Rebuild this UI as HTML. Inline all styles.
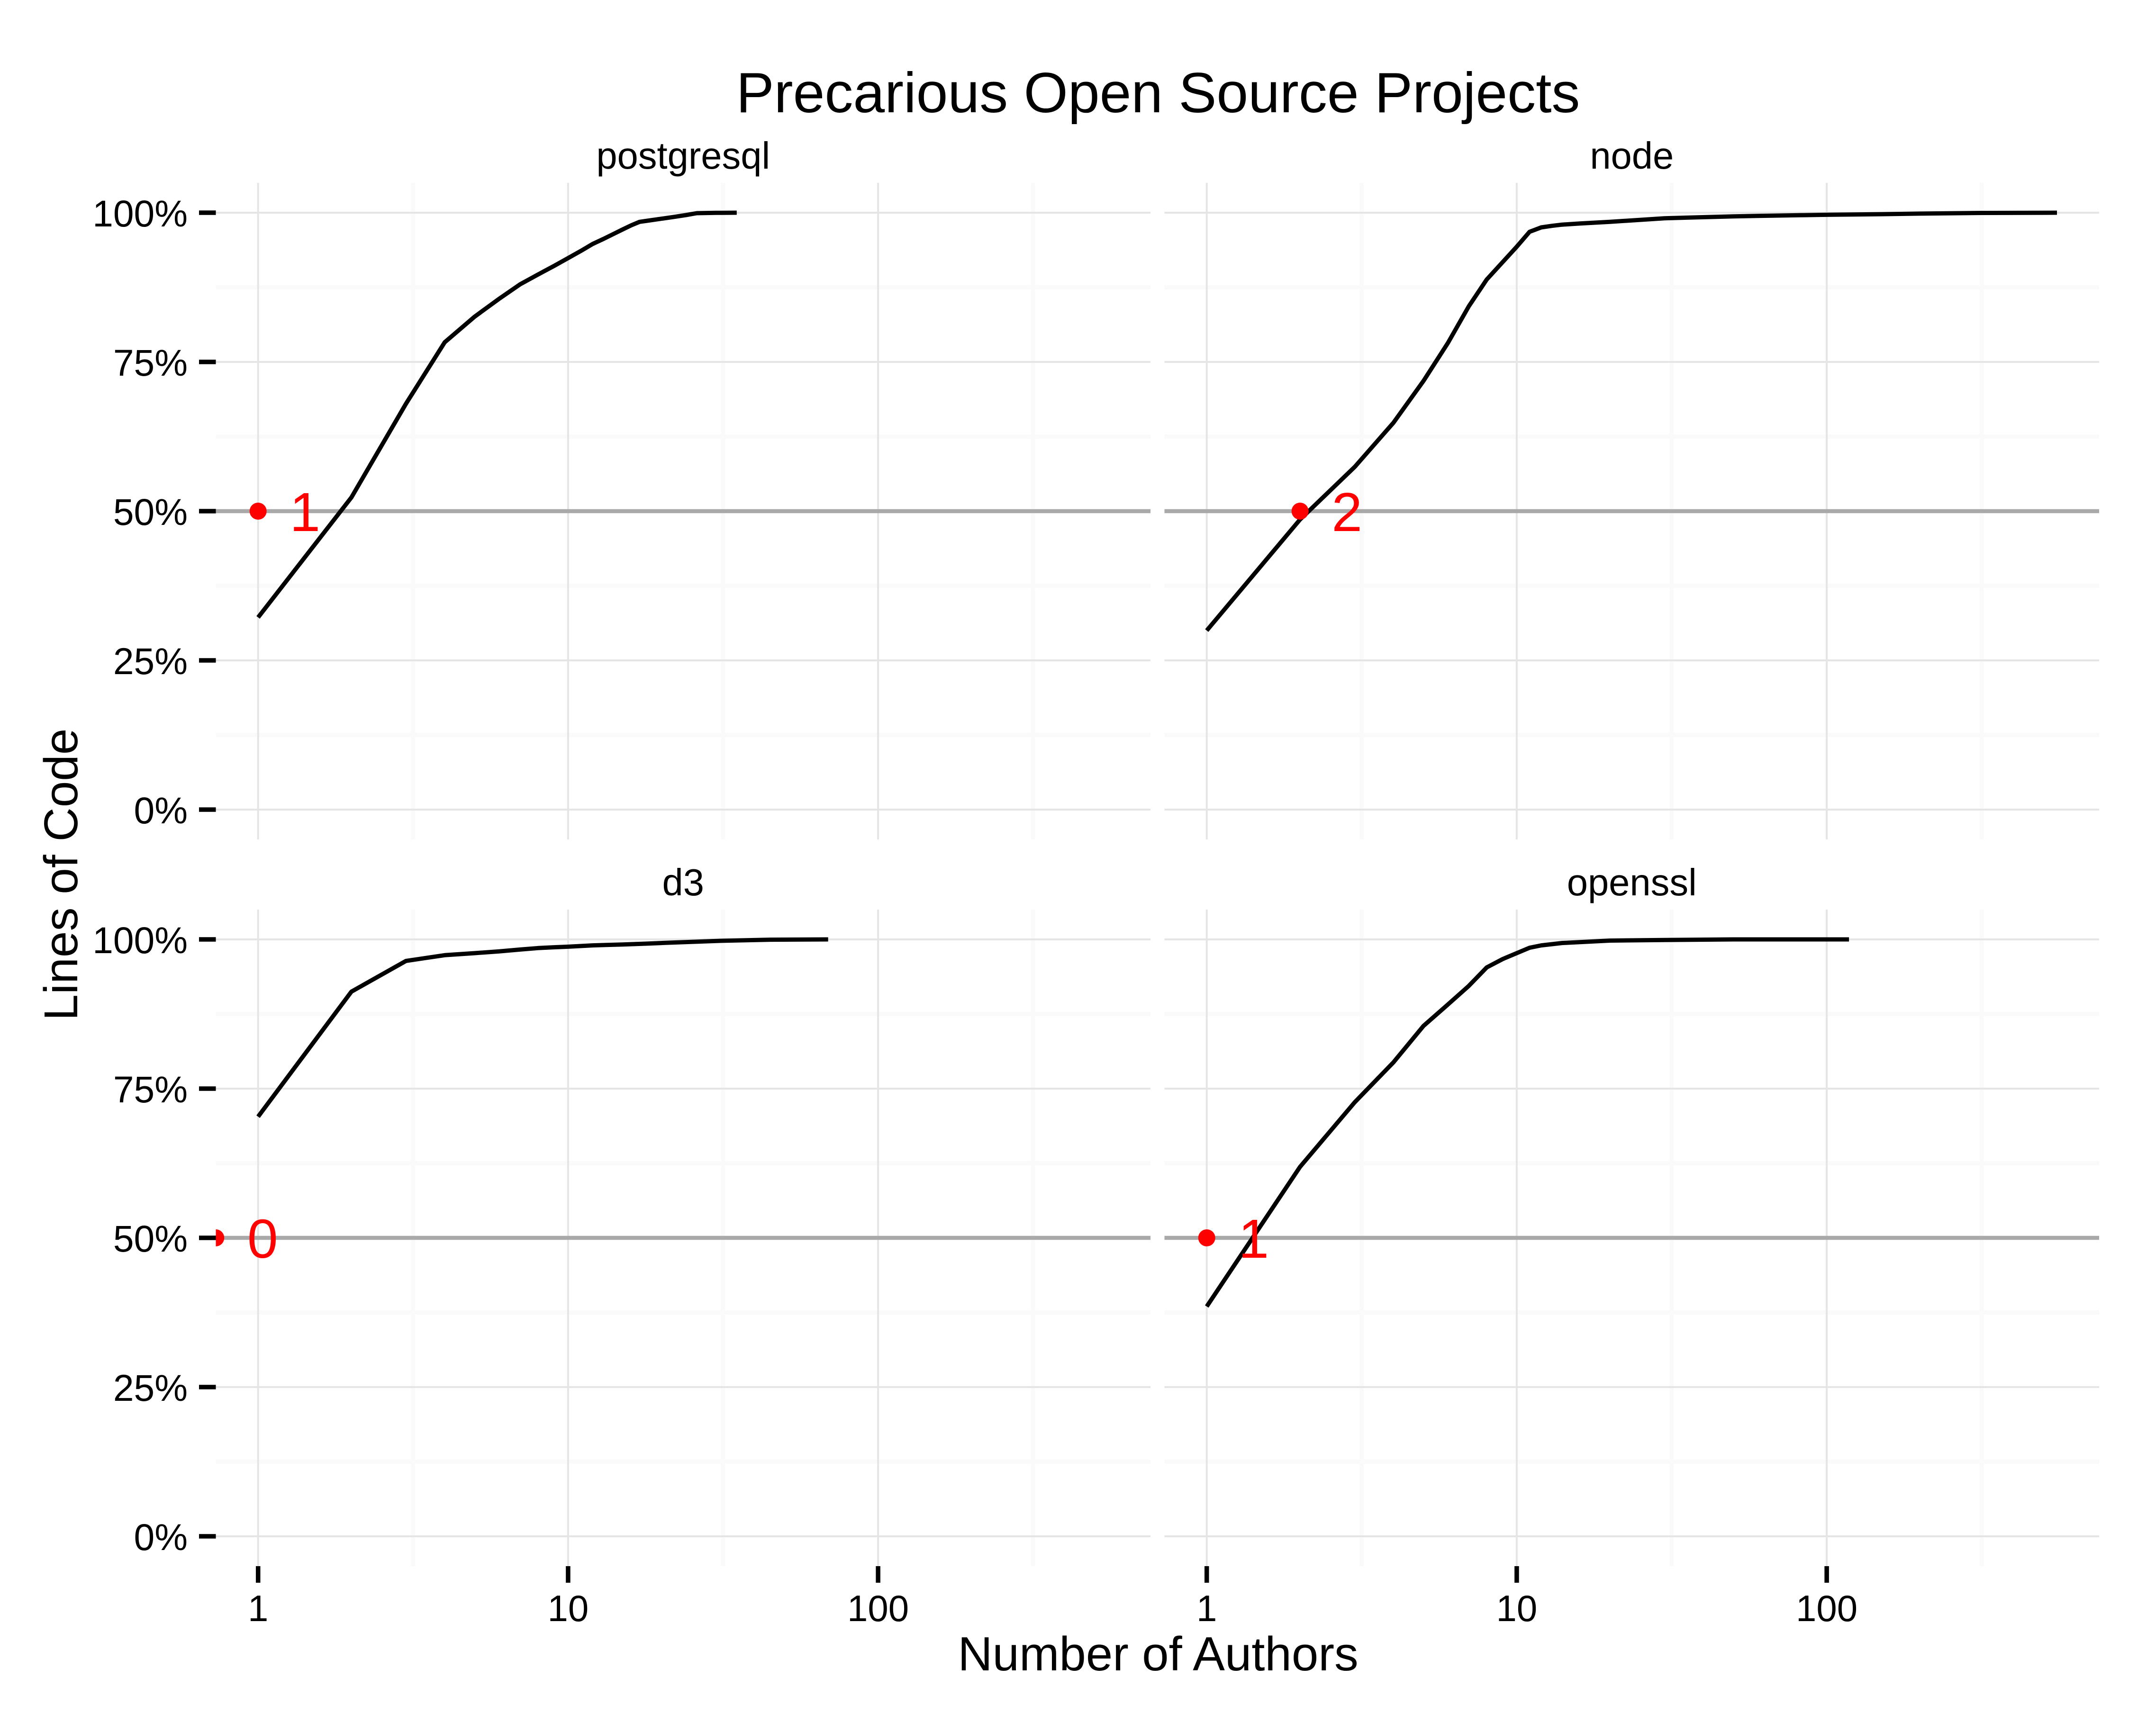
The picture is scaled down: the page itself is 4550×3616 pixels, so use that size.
<!DOCTYPE html>
<html lang="en">
<head>
<meta charset="utf-8">
<title>Precarious Open Source Projects</title>
<style>
html,body{margin:0;padding:0;background:#fff;width:4550px;height:3616px;overflow:hidden}
svg{display:block}
text{font-family:"Liberation Sans",sans-serif;fill:#000}
</style>
</head>
<body>
<svg id="chart" xmlns="http://www.w3.org/2000/svg" width="4550" height="3616" viewBox="0 0 4550 3616">
  <rect x="0" y="0" width="4550" height="3616" fill="#ffffff"/>
  <text x="2444" y="237" font-size="120" text-anchor="middle">Precarious Open Source Projects</text>
  <text x="2444" y="3526" font-size="101.4" text-anchor="middle">Number of Authors</text>
  <text transform="translate(163,1846) rotate(-90)" font-size="100" text-anchor="middle">Lines of Code</text>
</svg>
<script>
var projectNames = ['postgresql', 'node', 'd3', 'openssl'];

var postgresqlAuthors = [1, 2, 3, 4, 5, 6, 7, 8, 9, 10, 11, 12, 13, 14, 15, 16, 17, 18, 20, 22, 24, 26, 30, 35];
var postgresqlShare = [32.2, 52.3, 68, 78.3, 82.6, 85.6, 88, 89.65, 91.07, 92.4, 93.6, 94.76, 95.6, 96.43, 97.2, 97.9, 98.47, 98.65, 98.99, 99.3, 99.6, 99.92, 99.98, 100];

var nodeAuthors = [1, 2, 3, 4, 5, 6, 7, 8, 10, 11, 12, 13, 14, 16, 20, 30, 50, 60, 82, 100, 150, 200, 316, 553];
var nodeShare = [30, 48.6, 57.4, 64.8, 71.8, 78.2, 84.3, 88.8, 94.3, 96.8, 97.54, 97.8, 98, 98.2, 98.47, 99.07, 99.39, 99.47, 99.58, 99.65, 99.75, 99.85, 99.96, 100];

var d3Authors = [1, 2, 3, 4, 5, 6, 7, 8, 9, 10, 12, 15, 18, 20, 31, 45, 69];
var d3Share = [70.3, 91.25, 96.4, 97.36, 97.7, 98, 98.3, 98.55, 98.68, 98.78, 99, 99.15, 99.29, 99.4, 99.76, 99.95, 100];

var opensslAuthors = [1, 2, 3, 4, 5, 6, 7, 8, 9, 10, 11, 12, 14, 20, 30, 50, 118];
var opensslShare = [38.5, 61.9, 72.7, 79.4, 85.5, 89.1, 92.2, 95.3, 96.7, 97.7, 98.6, 99, 99.4, 99.8, 99.9, 100, 100];

var busFactorX = [1, 2, 0.73, 1];
var busFactorLabels = ['1', '2', '0', '1'];
var thresholdShare = 50;

var xMajorBreaks = [1, 10, 100];
var xMinorBreaks = [0.316, 3.16, 31.6, 316];
var xTickLabels = ['1', '10', '100'];
var yMajorBreaks = [0, 25, 50, 75, 100];
var yMinorBreaks = [12.5, 37.5, 62.5, 87.5];
var yTickLabels = ['0%', '25%', '50%', '75%', '100%'];

var seriesX = [postgresqlAuthors, nodeAuthors, d3Authors, opensslAuthors];
var seriesY = [postgresqlShare, nodeShare, d3Share, opensslShare];

var svg = document.getElementById('chart');
var NS = 'http://www.w3.org/2000/svg';
var colLeft = [455.5, 2457.5];
var rowTop = [386, 1920];
var panelW = 1972.5;
var panelH = 1386;

function xAxis(v, col) { return colLeft[col] + 89.2 + 654.2 * Math.log10(v); }
function yAxis(v, row) { return rowTop[row] + 63 + (100 - v) * 12.6; }

function make(tag, parent, attrs, text) {
  var el = document.createElementNS(NS, tag);
  for (var k in attrs) el.setAttribute(k, attrs[k]);
  if (text !== undefined) el.textContent = text;
  parent.appendChild(el);
  return el;
}

projectNames.forEach(function (name, i) {
  var col = i % 2, row = Math.floor(i / 2);
  var L = colLeft[col], T = rowTop[row], R = L + panelW, B = T + panelH;

  var panel = make('g', svg, {});
  
  

  var clip = make('clipPath', panel, { id: 'clip' + i });
  make('rect', clip, { x: L, y: T, width: panelW, height: panelH });

  var strip = make('text', panel, { x: L + panelW / 2, y: T - 30, 'font-size': 79.5, 'text-anchor': 'middle' }, name);
  
  

  var plot = make('g', panel, { 'clip-path': 'url(#clip' + i + ')' });

  yMinorBreaks.forEach(function (v) {
    var g = make('line', plot, { x1: L, x2: R, y1: yAxis(v, row), y2: yAxis(v, row), stroke: '#fafafa', 'stroke-width': 8.7 });
    
    
  });
  xMinorBreaks.forEach(function (v) {
    var g = make('line', plot, { x1: xAxis(v, col), x2: xAxis(v, col), y1: T, y2: B, stroke: '#fafafa', 'stroke-width': 8.7 });
    
    
  });
  yMajorBreaks.forEach(function (v) {
    var g = make('line', plot, { x1: L, x2: R, y1: yAxis(v, row), y2: yAxis(v, row), stroke: '#e5e5e5', 'stroke-width': 4 });
    
    
  });
  xMajorBreaks.forEach(function (v) {
    var g = make('line', plot, { x1: xAxis(v, col), x2: xAxis(v, col), y1: T, y2: B, stroke: '#e5e5e5', 'stroke-width': 4 });
    
    
  });

  var ref = make('line', plot, { x1: L, x2: R, y1: yAxis(thresholdShare, row), y2: yAxis(thresholdShare, row), stroke: '#a9a9a9', 'stroke-width': 8.5 });
  
  

  var pts = seriesX[i].map(function (x, j) {
    return xAxis(x, col).toFixed(1) + ',' + yAxis(seriesY[i][j], row).toFixed(1);
  }).join(' ');
  var line = make('polyline', plot, { points: pts, fill: 'none', stroke: '#000', 'stroke-width': 9, 'stroke-linejoin': 'round', 'stroke-linecap': 'butt' });
  
  

  var dot = make('circle', plot, { cx: xAxis(busFactorX[i], col), cy: yAxis(thresholdShare, row), r: 18, fill: '#ff0000' });
  
  

  var lab = make('text', plot, { x: xAxis(busFactorX[i], col) + 99, y: yAxis(thresholdShare, row) + 42, 'font-size': 116, 'text-anchor': 'middle' }, busFactorLabels[i]);
  lab.style.fill = '#ff0000';
  
  

  if (col === 0) {
    yMajorBreaks.forEach(function (v, j) {
      var t = make('line', panel, { x1: L - 35.5, x2: L, y1: yAxis(v, row), y2: yAxis(v, row), stroke: '#000', 'stroke-width': 9.5 });
      
      
      var tl = make('text', panel, { x: 396, y: yAxis(v, row) + 29, 'font-size': 78.5, 'text-anchor': 'end' }, yTickLabels[j]);
      
      
    });
  }
  if (row === 1) {
    xMajorBreaks.forEach(function (v, j) {
      var t = make('line', panel, { x1: xAxis(v, col), x2: xAxis(v, col), y1: B, y2: B + 35, stroke: '#000', 'stroke-width': 9.5 });
      
      
      var tl = make('text', panel, { x: xAxis(v, col), y: 3422, 'font-size': 78, 'text-anchor': 'middle' }, xTickLabels[j]);
      
      
    });
  }
});
</script>
</body>
</html>
